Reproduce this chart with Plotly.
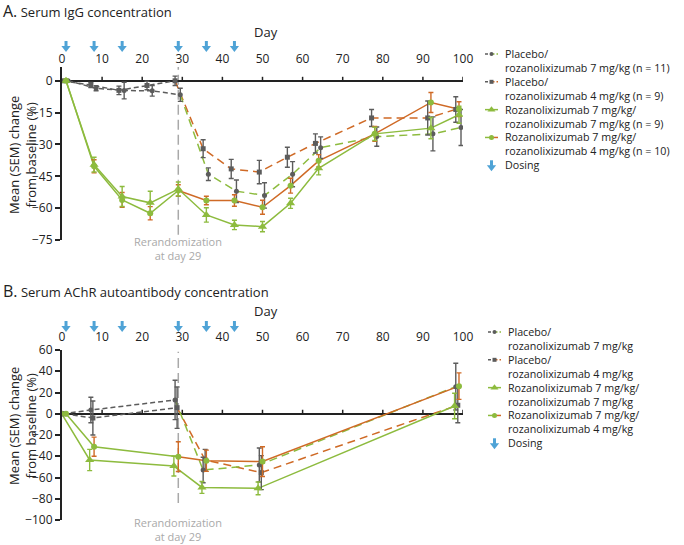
import plotly.graph_objects as go

W, H = 684, 545

# ---------------- data ----------------
visit_days_A = [1, 8, 15, 22, 29, 36, 43, 50, 57, 64, 78, 92, 99]
igg_pbo7 = [0, -3.5, -4.6, -4.7, -6.6, -44, -52, -54, -44, -31.5, -26.3, -25, -22]
igg_pbo7_sem = [None, 1.2, 3.9, 2.5, 3.1, 3, 5.3, 6, 5.9, 5.1, 4.5, 8, 8.5]
igg_pbo4 = [0, -2, -4.5, -2.2, 0, -32, -41.5, -43, -36, -29.5, -17.5, -17.5, -13.5]
igg_pbo4_sem = [None, 1.2, 2, 2, 2.2, 4.2, 4.5, 5.5, 4.7, 4.5, 4, 8, 6]
igg_r77 = [0, -39.5, -54.5, -57.5, -51, -63.2, -67.9, -68.7, -57.7, -41.2, -25, -22.3, -16]
igg_r77_sem = [None, 3.5, 4.7, 5.5, 3.3, 3.4, 2.2, 2.4, 2.4, 3.1, 3.1, 5, 4]
igg_r74 = [0, -40.3, -56.1, -62.4, -51.7, -56.4, -56.4, -59.6, -49.4, -37.7, -25, -10.2, -13.4]
igg_r74_sem = [None, 3.1, 3.5, 3.1, 2.7, 2, 2.7, 3.3, 3.5, 2.9, 3.5, 4.7, 3.5]

visit_days_B = [1, 8, 29, 36, 50, 99]
achr_pbo7 = [0, 3.5, 13, -53, -48.2, 25.5]
achr_pbo7_sem = [None, 12, 18.5, 12, 16, 22]
achr_pbo4 = [0, -4, 5.7, -43.5, -55.4, 8]
achr_pbo4_sem = [None, 16, 19.5, 10, 16, 16.5]
achr_r77 = [0, -43.5, -49.2, -69.3, -70.2, 7.3]
achr_r77_sem = [None, 10, 9.4, 5.6, 6, 12]
achr_r74 = [0, -31, -40.4, -44.2, -45, 26]
achr_r74_sem = [None, 9, 14, 10, 14, 12.5]

dosing_days = [1, 8, 15, 29, 36, 43]
rerandomization_day = 29
x_ticks = [0, 10, 20, 30, 40, 50, 60, 70, 80, 90, 100]
y_ticks_A = [0, -15, -30, -45, -60, -75]
y_ticks_B = [60, 40, 20, 0, -20, -40, -60, -80, -100]

legend_A = [
    ("Placebo/", "rozanolixizumab 7 mg/kg (n = 11)"),
    ("Placebo/", "rozanolixizumab 4 mg/kg (n = 9)"),
    ("Rozanolixizumab 7 mg/kg/", "rozanolixizumab 7 mg/kg (n = 9)"),
    ("Rozanolixizumab 7 mg/kg/", "rozanolixizumab 4 mg/kg (n = 10)"),
]
legend_B = [
    ("Placebo/", "rozanolixizumab 7 mg/kg"),
    ("Placebo/", "rozanolixizumab 4 mg/kg"),
    ("Rozanolixizumab 7 mg/kg/", "rozanolixizumab 7 mg/kg"),
    ("Rozanolixizumab 7 mg/kg/", "rozanolixizumab 4 mg/kg"),
]

# ---------------- styles ----------------
GRAY = "#5c5c5c"
GREEN = "#8dbb3e"
ORANGE = "#cf6a26"
BLUE = "#4fa3d6"
LIGHT = "#a9a9a9"
INK = "#222222"
FONT = "Open Sans"
PRE_DASH = "5px,3px"
POST_DASH = "8px,5px"

STYLE = {
    "pbo7": dict(pre=(GRAY, PRE_DASH), post=(GREEN, POST_DASH), sym="circle", msize=5, mcol=GRAY, ecol=GRAY),
    "pbo4": dict(pre=(GRAY, PRE_DASH), post=(ORANGE, POST_DASH), sym="square", msize=5, mcol=GRAY, ecol=GRAY),
    "r77": dict(pre=(GREEN, "solid"), post=(GREEN, "solid"), sym="triangle-up", msize=8, mcol=GREEN, ecol=GREEN),
    "r74": dict(pre=(GREEN, "solid"), post=(ORANGE, "solid"), sym="circle", msize=6, mcol=GREEN, ecol=ORANGE),
}
DODGE_A = {"pbo7": 0.5, "pbo4": -0.8, "r77": 0.0, "r74": 0.0}
DODGE_B = {"pbo7": -0.8, "pbo4": -0.3, "r77": -1.1, "r74": 0.0}

X0, X1 = 62, 463
A_TOP, A_BOT = 67, 240
B_TOP, B_BOT = 350, 520
LEG_FONT = 10.7
LEG_STEP = 1.3 * LEG_FONT


def py(y):
    return 1 - y / H


def day_px(d):
    return X0 + d * (X1 - X0) / 100.0


fig = go.Figure()


def add_panel(xa, ya, days, series, dodge):
    for key, (vals, sems) in series.items():
        st = STYLE[key]
        dd = [d + dodge[key] for d in days]
        for part, cond in (("pre", lambda d: d <= rerandomization_day), ("post", lambda d: d >= rerandomization_day)):
            idx = [i for i, d in enumerate(days) if cond(d)]
            col, dash = st[part]
            fig.add_trace(go.Scatter(
                x=[dd[i] for i in idx], y=[vals[i] for i in idx], mode="lines",
                line=dict(color=col, width=1.5, dash=dash),
                xaxis=xa, yaxis=ya, showlegend=False, hoverinfo="skip"))
    for key, (vals, sems) in series.items():
        st = STYLE[key]
        dd = [d + dodge[key] for d in days]
        fig.add_trace(go.Scatter(
            x=dd, y=vals, mode="markers",
            marker=dict(symbol=st["sym"], size=st["msize"], color=st["mcol"], line=dict(width=0)),
            error_y=dict(type="data", array=sems, color=st["ecol"], thickness=1.4, width=2.5),
            xaxis=xa, yaxis=ya, showlegend=False, hoverinfo="skip"))


add_panel("x", "y", visit_days_A, {
    "pbo4": (igg_pbo4, igg_pbo4_sem), "pbo7": (igg_pbo7, igg_pbo7_sem),
    "r74": (igg_r74, igg_r74_sem), "r77": (igg_r77, igg_r77_sem)}, DODGE_A)
add_panel("x2", "y2", visit_days_B, {
    "pbo4": (achr_pbo4, achr_pbo4_sem), "pbo7": (achr_pbo7, achr_pbo7_sem),
    "r74": (achr_r74, achr_r74_sem), "r77": (achr_r77, achr_r77_sem)}, DODGE_B)


# ---------------- overlay pixel axes: dosing arrows & legends ----------------
def arrows(xs, ytop):
    sx, sy = [], []
    for x in xs:
        sx += [x, x, None]
        sy += [ytop, ytop + 6, None]
    fig.add_trace(go.Scatter(x=sx, y=sy, mode="lines", line=dict(color=BLUE, width=3),
                             xaxis="x3", yaxis="y3", showlegend=False, hoverinfo="skip", cliponaxis=False))
    fig.add_trace(go.Scatter(x=xs, y=[ytop + 7] * len(xs), mode="markers",
                             marker=dict(symbol="triangle-down", size=8, color=BLUE),
                             xaxis="x3", yaxis="y3", showlegend=False, hoverinfo="skip", cliponaxis=False))


arrows([day_px(d) for d in dosing_days], 41)
arrows([day_px(d) for d in dosing_days], 321)


def legend(entries, y_first, xs, xe, xt):
    keys = ["pbo7", "pbo4", "r77", "r74"]
    xm = (xs + xe) / 2
    lines = []
    for k, ((l1, l2), key) in enumerate(zip(entries, keys)):
        y = y_first + 2 * k * LEG_STEP
        st = STYLE[key]
        c1, d1 = st["pre"]
        c2, d2 = st["post"]
        for (xa_, xb_), c, d in (((xs, xm), c1, d1), ((xm, xe), c2, d2)):
            fig.add_trace(go.Scatter(x=[xa_, xb_], y=[y, y], mode="lines",
                                     line=dict(color=c, width=1.5, dash="3px,2px" if d != "solid" else "solid"),
                                     xaxis="x3", yaxis="y3", showlegend=False, hoverinfo="skip", cliponaxis=False))
        fig.add_trace(go.Scatter(x=[xm], y=[y], mode="markers",
                                 marker=dict(symbol=st["sym"], size=st["msize"] - 1, color=st["mcol"]),
                                 xaxis="x3", yaxis="y3", showlegend=False, hoverinfo="skip", cliponaxis=False))
        lines += [l1, l2]
    dos_y = y_first + 8 * LEG_STEP
    arrows([xm], dos_y - 5)
    lines.append("Dosing")
    fig.add_annotation(x=xt / W, y=py(y_first - 0.65 * LEG_STEP), xref="paper", yref="paper",
                       text="<br>".join(lines), showarrow=False, align="left",
                       xanchor="left", yanchor="top", font=dict(family=FONT, size=LEG_FONT, color=INK))


legend(legend_A, 54, 485, 498, 503)
legend(legend_B, 332, 488, 501, 506)

# ---------------- axes ----------------
common_x = dict(range=[0, 100], side="top", tickvals=x_ticks, ticks="", showline=False, showgrid=False,
                zeroline=False, tickfont=dict(family=FONT, size=12, color=INK), domain=[X0 / W, X1 / W],
                automargin=False, fixedrange=True)


def minus(v):
    return str(v).replace("-", "\u2212")


common_y = dict(showline=True, linecolor=INK, linewidth=2, ticks="outside", ticklen=5, tickwidth=1.5,
                tickcolor=INK, showgrid=False, zeroline=True, zerolinecolor=INK, zerolinewidth=2,
                tickfont=dict(family=FONT, size=12, color=INK), automargin=False, fixedrange=True)

fig.update_layout(
    template="none",
    width=W, height=H, autosize=False, margin=dict(l=0, r=0, t=0, b=0, pad=0, autoexpand=False),
    paper_bgcolor="white", plot_bgcolor="rgba(0,0,0,0)", showlegend=False,
    font=dict(family=FONT, color=INK),
    xaxis=dict(anchor="y", ticklabelstandoff=1, **common_x),
    yaxis=dict(anchor="x", domain=[py(A_BOT), py(A_TOP)], range=[-75, 6.5], tickvals=y_ticks_A,
               ticktext=[minus(v) for v in y_ticks_A], **common_y),
    xaxis2=dict(anchor="y2", ticklabelstandoff=6, **common_x),
    yaxis2=dict(anchor="x2", domain=[py(B_BOT), py(B_TOP)], range=[-100, 60], tickvals=y_ticks_B,
                ticktext=[minus(v) for v in y_ticks_B], **common_y),
    xaxis3=dict(anchor="y3", domain=[0, 1], range=[0, W], visible=False, fixedrange=True, automargin=False),
    yaxis3=dict(anchor="x3", domain=[0, 1], range=[H, 0], visible=False, fixedrange=True, automargin=False),
)

# x tick marks sitting on the zero line, rerandomization lines
for xr, yr, dom in (("x", "y", (0.03, 1)), ("x2", "y2", (0.1, 0.99))):
    for t in x_ticks[1:]:
        fig.add_shape(type="line", xref=xr, yref=yr, ysizemode="pixel", yanchor=0, y0=0, y1=4,
                      x0=t, x1=t, line=dict(color=INK, width=1.5))
    fig.add_shape(type="line", xref=xr, yref=yr + " domain", x0=rerandomization_day, x1=rerandomization_day,
                  y0=dom[0], y1=dom[1], line=dict(color=LIGHT, width=1.5, dash="10px,5px"), layer="below")

# ---------------- texts ----------------
for ytxt, letter, title in ((11, "A.", "Serum IgG concentration"), (291, "B.", "Serum AChR autoantibody concentration")):
    fig.add_annotation(x=1 / W, y=py(ytxt), xref="paper", yref="paper", xanchor="left", yanchor="middle",
                       text=f"<span style='font-size:16px'>{letter}</span> {title}", showarrow=False,
                       font=dict(family=FONT, size=13, color=INK))

for yd in (32, 311):
    fig.add_annotation(x=265.5 / W, y=py(yd), xref="paper", yref="paper", text="Day", showarrow=False,
                       yanchor="middle", font=dict(family=FONT, size=13, color=INK))

for yc in (155, 426):
    fig.add_annotation(x=22 / W, y=py(yc), xref="paper", yref="paper",
                       text="Mean (SEM) change<br>from baseline (%)", textangle=-90,
                       showarrow=False, xanchor="center", yanchor="middle",
                       font=dict(family=FONT, size=13, color=INK))

for xr, yc in (("x", 249), ("x2", 529)):
    fig.add_annotation(x=rerandomization_day, xref=xr, y=py(yc), yref="paper",
                       text="Rerandomization<br>at day 29", showarrow=False,
                       xanchor="center", yanchor="middle", font=dict(family=FONT, size=11, color=LIGHT))

fig.write_html("out.html", config={"displayModeBar": False},
               post_script="document.body.style.margin='0';document.body.style.overflow='hidden';")
